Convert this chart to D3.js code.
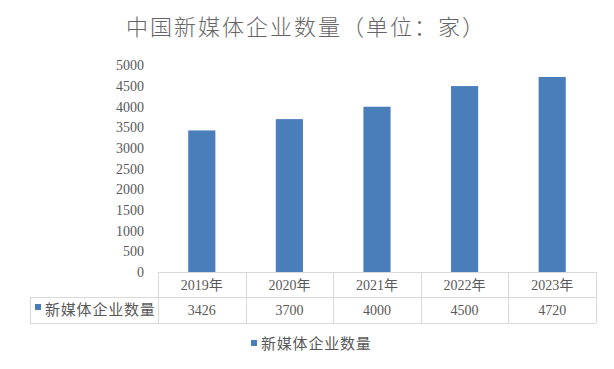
<!DOCTYPE html>
<html><head><meta charset="utf-8">
<script src="https://cdn.jsdelivr.net/npm/d3@7"></script>
<style>body{margin:0;background:#fff}svg{display:block}</style>
</head><body>
<svg id="c" width="614" height="369"></svg>
<script>
const title = "中国新媒体企业数量（单位：家）";
const seriesName = "新媒体企业数量";
const categories = ["2019年", "2020年", "2021年", "2022年", "2023年"];
const values = [3426, 3700, 4000, 4500, 4720];
const yTicks = [0, 500, 1000, 1500, 2000, 2500, 3000, 3500, 4000, 4500, 5000];

(function () {
const serif = "'Liberation Serif','Times New Roman','Noto Sans CJK SC',serif";
const barColor = "#4a7ebb";
const textColor = "#595959";
const gridColor = "#d9d9d9";

const svg = d3.select("#c");
const pLeft = 158, pRight = 596, pTop = 65.4, base = 272;
const x = d3.scaleBand().domain(categories).range([pLeft, pRight]).paddingInner(0.69).paddingOuter(0.345);
const cell = d3.scaleBand().domain(categories).range([pLeft, pRight]).padding(0);
const y = d3.scaleLinear().domain([0, 5000]).range([base, pTop]);

svg.append("text").attr("x", 306).attr("y", 35).attr("text-anchor", "middle")
  .attr("font-family", serif).attr("font-size", 22).attr("font-weight", 300).attr("fill", "#666").attr("letter-spacing", 2)
  .text(title);

const yAxis = svg.append("g").attr("transform", `translate(${pLeft},0)`)
  .call(d3.axisLeft(y).tickValues(yTicks).tickSize(0).tickPadding(14).tickFormat(d3.format("d")));
yAxis.select(".domain").remove();
yAxis.attr("font-family", serif);
yAxis.selectAll("text").attr("font-family", serif).attr("font-size", 14).attr("fill", textColor);

svg.append("g").selectAll("rect").data(values).join("rect")
  .attr("x", (d, i) => x(categories[i])).attr("width", x.bandwidth())
  .attr("y", d => y(d)).attr("height", d => y(0) - y(d)).attr("fill", barColor);

// data table
const r0 = base, r1 = 297, r2 = 323, tLeft = 30;
const g = svg.append("g").attr("stroke", gridColor).attr("stroke-width", 1).attr("fill", "none");
g.append("line").attr("x1", pLeft).attr("x2", pRight).attr("y1", r0 + 0.5).attr("y2", r0 + 0.5);
g.append("line").attr("x1", tLeft).attr("x2", pRight).attr("y1", r1 + 0.5).attr("y2", r1 + 0.5);
g.append("line").attr("x1", tLeft).attr("x2", pRight).attr("y1", r2 + 0.5).attr("y2", r2 + 0.5);
g.append("line").attr("x1", tLeft + 0.5).attr("x2", tLeft + 0.5).attr("y1", r1).attr("y2", r2);
categories.forEach(c => {
  g.append("line").attr("x1", Math.round(cell(c)) + 0.5).attr("x2", Math.round(cell(c)) + 0.5).attr("y1", r0).attr("y2", r2);
});
g.append("line").attr("x1", pRight + 0.5).attr("x2", pRight + 0.5).attr("y1", r0).attr("y2", r2);

svg.append("g").selectAll("text").data(categories).join("text")
  .attr("x", d => cell(d) + cell.bandwidth() / 2).attr("y", 290).attr("text-anchor", "middle")
  .attr("font-family", serif).attr("font-size", 14).attr("fill", textColor).text(d => d);
svg.append("g").selectAll("text").data(values).join("text")
  .attr("x", (d, i) => cell(categories[i]) + cell.bandwidth() / 2).attr("y", 315).attr("text-anchor", "middle")
  .attr("font-family", serif).attr("font-size", 14).attr("fill", textColor).text(d => d);

svg.append("rect").attr("x", 35).attr("y", 304).attr("width", 6).attr("height", 6).attr("fill", barColor);
svg.append("text").attr("x", 45).attr("y", 315).attr("font-family", serif).attr("font-size", 15)
  .attr("fill", textColor).attr("letter-spacing", 0.8).text(seriesName);

// legend
svg.append("rect").attr("x", 251).attr("y", 340).attr("width", 6).attr("height", 6).attr("fill", barColor);
svg.append("text").attr("x", 261).attr("y", 349).attr("font-family", serif).attr("font-size", 15)
  .attr("fill", textColor).attr("letter-spacing", 0.8).text(seriesName);
})();
</script>
</body></html>
